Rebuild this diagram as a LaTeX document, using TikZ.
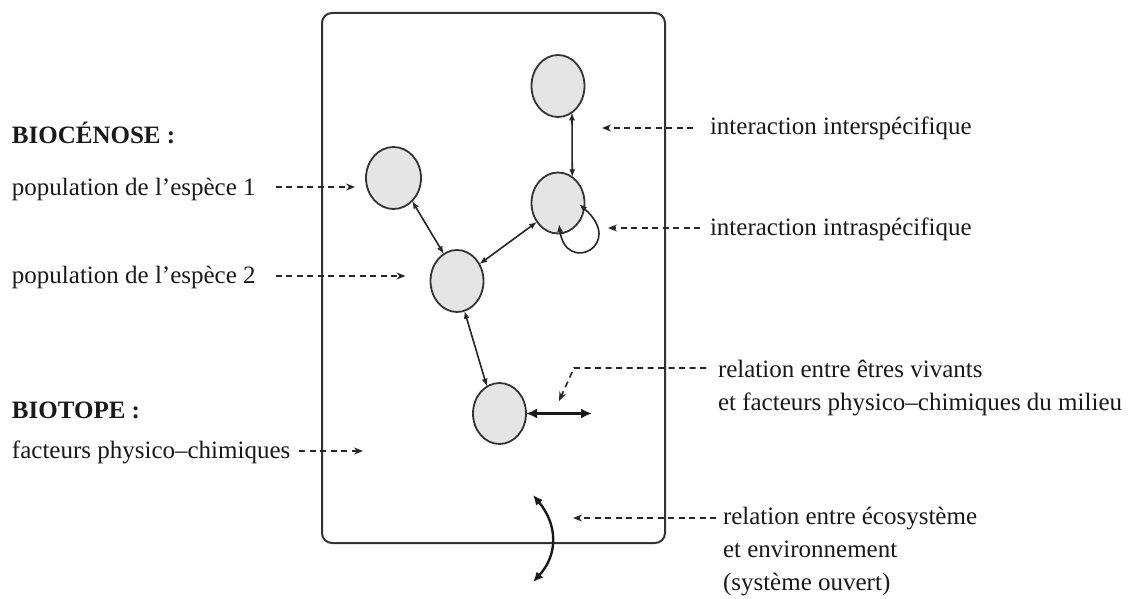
\documentclass[tikz,border=0pt]{standalone}
\usepackage{fontspec}
\setmainfont{Liberation Serif}
\usetikzlibrary{arrows.meta,shapes.geometric,calc}
\begin{document}
\begin{tikzpicture}[x=1pt,y=-1pt,
  every node/.style={inner sep=0pt, outer sep=0pt},
  txt/.style={font=\fontsize{25}{33}\selectfont, text=black!90, anchor=base west, align=left},
  head/.style={font=\fontsize{25}{33}\selectfont\bfseries, text=black!90, anchor=base west},
  popn/.style={ellipse, draw=black!80, line width=1.8pt, fill=black!10,
    minimum width=53pt, minimum height=62pt},
  link/.style={line width=1.6pt, draw=black!85,
    {Latex[length=8pt,width=6pt]}-{Latex[length=8pt,width=6pt]}},
  pointer/.style={line width=1.6pt, draw=black!85, dash pattern=on 6pt off 4.5pt,
    -{Stealth[length=9pt,width=7pt]}},
]
\useasboundingbox (0,0) rectangle (1138,599);

% ecosystem boundary
\node[draw=black!80, line width=2pt, rounded corners=10pt,
  minimum width=343pt, minimum height=530pt] (ecosys) at (493.5,278) {};

% populations
\node[popn] (C1) at (558,86) {};
\node[popn, minimum height=61pt] (C2) at (558,203) {};
\node[popn, minimum width=55pt] (sp1) at (393.5,178) {};
\node[popn] (sp2) at (457,281) {};
\node[popn, minimum height=61pt] (C5) at (499.5,413.5) {};

% interactions between populations
\draw[link] (C1.-62) -- (C2.61);
\draw[link] (sp1.-51) -- (sp2.116);
\draw[link] (sp2.37) -- (C2.-138);
\draw[link] (sp2.-76) -- (C5.115);
\draw[link] ($(C2.center)+(1,21)$) .. controls ($(C2.center)+(8,72)$) and ($(C2.center)+(68,42)$) .. ($(C2.center)+(21,1)$);

% exchange with the physico-chemical factors
\draw[line width=3pt, draw=black!90,
  {Latex[length=11pt,width=10pt]}-{Latex[length=11pt,width=10pt]}]
  (C5.east) -- ++(66,0) coordinate (phys);

% exchange with the environment (open system)
\coordinate (envTop) at (533,495);
\coordinate (envBot) at (533,582);
\draw[line width=2.4pt, draw=black!90,
  {Latex[length=10pt,width=9pt]}-{Latex[length=10pt,width=9pt]}]
  (envTop) .. controls (558,525) and (558,555) .. (envBot);

% left-hand labels
\node[head] (bioc) at (12,143) {BIOCÉNOSE :};
\node[txt] (p1) at (12,195) {population de l’espèce 1};
\node[txt] (p2) at (12,283) {population de l’espèce 2};
\node[head] (biot) at (12,418) {BIOTOPE :};
\node[txt] (fac) at (12,458) {facteurs physico–chimiques};

% right-hand labels (multi-line nodes sit on their last baseline)
\node[txt] (inter) at (710,135) {interaction interspécifique};
\node[txt] (intra) at (710,235) {interaction intraspécifique};
\node[txt] (rel) at (718,410) {relation entre êtres vivants\\et facteurs physico–chimiques du milieu};
\node[txt] (eco) at (723,590) {relation entre écosystème\\et environnement\\(système ouvert)};

% pointers
\coordinate (biotope) at (363,451);
\coordinate (interTip) at (602,128);
\coordinate (intraTip) at (608,228);
\coordinate (relBend) at (574,368);
\coordinate (relTip) at (559,401);
\coordinate (ecoTip) at (573,518);

\draw[pointer] ($(p1.base east)+(20,-8)$) -- ($(sp1.west)+(-11,9)$);
\draw[pointer] ($(p2.base east)+(20,-7)$) -- ($(sp2.west)+(-25,-5)$);
\draw[pointer] ($(fac.base east)+(9,-7)$) -- (biotope);
\draw[pointer] ($(inter.base west)+(-17,-7)$) -- (interTip);
\draw[pointer] ($(intra.base west)+(-10,-7)$) -- (intraTip);
\draw[pointer] ($(rel.base west)+(-12,-42)$) -- (relBend) -- (relTip);
\draw[pointer] ($(eco.base west)+(-7,-72)$) -- (ecoTip);
\end{tikzpicture}
\end{document}
